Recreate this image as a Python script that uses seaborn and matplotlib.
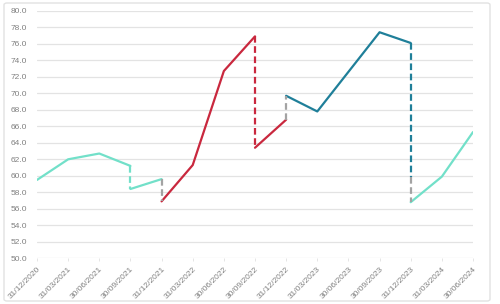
import matplotlib
matplotlib.use("Agg")
import matplotlib.pyplot as plt
import seaborn as sns
import pandas as pd
from matplotlib.patches import FancyBboxPatch

dates = ["31/12/2020", "31/03/2021", "30/06/2021", "30/09/2021", "31/12/2021",
         "31/03/2022", "30/06/2022", "30/09/2022", "31/12/2022", "31/03/2023",
         "30/06/2023", "30/09/2023", "31/12/2023", "31/03/2024", "30/06/2024"]

teal1_idx = [0, 1, 2, 3]
teal1_val = [59.5, 62.0, 62.7, 61.2]
teal2_idx = [3, 4]
teal2_val = [58.4, 59.6]
red1_idx = [4, 5, 6, 7]
red1_val = [56.9, 61.3, 72.7, 76.9]
red2_idx = [7, 8]
red2_val = [63.4, 66.8]
blue1_idx = [8, 9, 10, 11, 12]
blue1_val = [69.7, 67.8, 72.6, 77.4, 76.1]
blue2_idx = [12]
blue2_val = [59.8]
teal3_idx = [12, 13, 14]
teal3_val = [56.8, 59.9, 65.3]

TEAL = "#72e0c9"
RED = "#c9283e"
BLUE = "#1f7f99"
GRAY = "#a3a3a3"

sns.set_theme(style="white")
plt.rcParams["font.family"] = ["Liberation Sans", "DejaVu Sans"]

fig = plt.figure(figsize=(5.0, 3.04), dpi=100)
ax = fig.add_axes([37 / 500, 1 - 258.3 / 304, 436 / 500, (258.3 - 10.8) / 304])

def seg(idx, val, color, dashed=False):
    df = pd.DataFrame({"x": idx, "y": val})
    sns.lineplot(data=df, x="x", y="y", ax=ax, color=color, lw=1.6,
                 estimator=None, errorbar=None, sort=False,
                 linestyle=(0, (3.0, 1.6)) if dashed else "-")

# solid segments
seg(teal1_idx, teal1_val, TEAL)
seg(teal2_idx, teal2_val, TEAL)
seg(red1_idx, red1_val, RED)
seg(red2_idx, red2_val, RED)
seg(blue1_idx, blue1_val, BLUE)
seg(teal3_idx, teal3_val, TEAL)

# resets within a regime (dashed, same colour)
seg([teal1_idx[-1], teal2_idx[0]], [teal1_val[-1], teal2_val[0]], TEAL, True)
seg([red1_idx[-1], red2_idx[0]], [red1_val[-1], red2_val[0]], RED, True)
seg([blue1_idx[-1], blue2_idx[0]], [blue1_val[-1], blue2_val[0]], BLUE, True)

# transitions between regimes (dashed grey)
seg([teal2_idx[-1], red1_idx[0]], [teal2_val[-1], red1_val[0]], GRAY, True)
seg([red2_idx[-1], blue1_idx[0]], [red2_val[-1], blue1_val[0]], GRAY, True)
seg([blue2_idx[-1], teal3_idx[0]], [blue2_val[-1], teal3_val[0]], GRAY, True)

ax.set_xlim(0, len(dates) - 1)
ax.set_ylim(50, 80)
ax.set_yticks([50 + 2 * i for i in range(16)])
ax.set_yticklabels([f"{50 + 2 * i:.1f}" for i in range(16)])
ax.set_xticks(range(len(dates)))
ax.set_xticklabels(dates, rotation=45, ha="right", rotation_mode="anchor")
ax.set_xlabel("")
ax.set_ylabel("")
ax.grid(axis="y", color="#e3e3e3", lw=0.9)
ax.grid(axis="x", visible=False)
for s in ax.spines.values():
    s.set_visible(False)
ax.tick_params(axis="y", length=0, pad=7, labelsize=6.0, labelcolor="#808080")
ax.tick_params(axis="x", length=2.5, width=0.6, color="#e0e0e0", pad=3,
               labelsize=6.0, labelcolor="#808080", bottom=True)

frame = FancyBboxPatch((4 / 500, 3 / 304), 486 / 500, 298 / 304,
                       boxstyle="round,pad=0,rounding_size=0.006",
                       transform=fig.transFigure, fill=False,
                       edgecolor="#e2e2e2", lw=1.0)
fig.patches.append(frame)

fig.savefig("out.png", dpi=100)
